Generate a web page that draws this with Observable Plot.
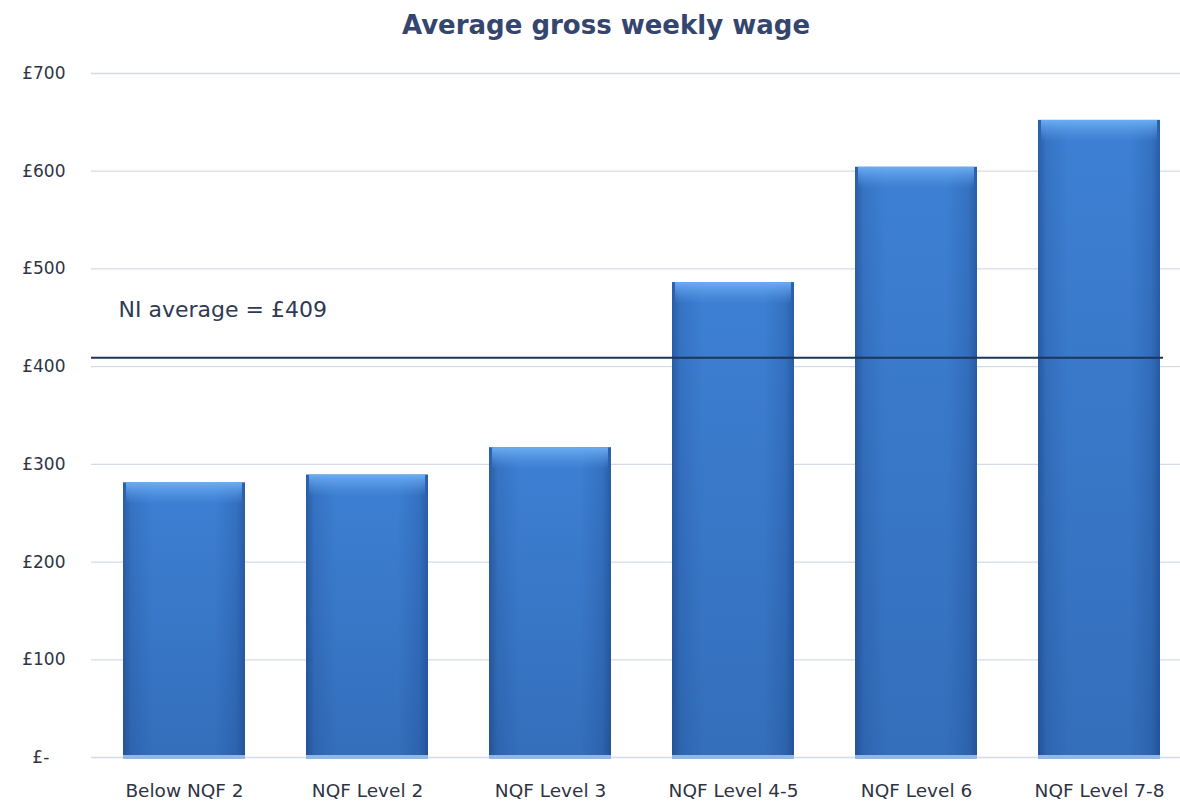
<!DOCTYPE html>
<html>
<head>
<meta charset="utf-8">
<script src="https://cdn.jsdelivr.net/npm/d3@7"></script>
<script src="https://cdn.jsdelivr.net/npm/@observablehq/plot@0.6"></script>
<style>
  html, body { margin: 0; padding: 0; background: #fff; }
  #title { height: 50px; line-height: 50px; text-align: center; font-family: "DejaVu Sans", sans-serif; font-weight: 700; font-size: 26px; color: #34456e; padding-left: 32px; }
  #chart { position: relative; }
</style>
</head>
<body>
<svg width="0" height="0" style="position:absolute">
  <defs>
    <linearGradient id="gH" x1="0" x2="1" y1="0" y2="0">
      <stop offset="0%" stop-color="#2a5da6"/>
      <stop offset="7%" stop-color="#3674c4"/>
      <stop offset="25%" stop-color="#3d80d3"/>
      <stop offset="75%" stop-color="#3d80d3"/>
      <stop offset="93%" stop-color="#3472c2"/>
      <stop offset="100%" stop-color="#2a5da6"/>
    </linearGradient>
    <linearGradient id="gV" x1="0" x2="0" y1="0" y2="1">
      <stop offset="0%" stop-color="#0a1e50" stop-opacity="0"/>
      <stop offset="100%" stop-color="#0a1e50" stop-opacity="0.18"/>
    </linearGradient>
    <linearGradient id="gTop" x1="0" x2="0" y1="0" y2="1">
      <stop offset="0%" stop-color="#6db0f5" stop-opacity="0.95"/>
      <stop offset="100%" stop-color="#5a9be6" stop-opacity="0"/>
    </linearGradient>
  </defs>
</svg>
<div id="title">Average gross weekly wage</div>
<div id="chart"></div>
<script>
const categories = ["Below NQF 2", "NQF Level 2", "NQF Level 3", "NQF Level 4-5", "NQF Level 6", "NQF Level 7-8"];
const wages = [281, 289, 317, 486, 604, 652];
const niAverage = 409;
const niLabel = "NI average = £409";
const yTicks = [0, 100, 200, 300, 400, 500, 600, 700];

const data = categories.map((c, i) => ({category: c, value: wages[i]}));

const font = "'DejaVu Sans', sans-serif";
const labelColor = "#2f3444";
const chart = Plot.plot({
  width: 1180,
  height: 751,
  marginTop: 23,
  marginBottom: 44,
  marginLeft: 91,
  marginRight: 0,
  style: {fontFamily: font, fontSize: "17px", color: labelColor, background: "transparent"},
  x: {domain: categories, range: [92, 1192], paddingInner: 0.333, paddingOuter: 0.1665, align: 0.5, label: null},
  y: {domain: [0, 700], label: null},
  marks: [
    Plot.ruleY(yTicks, {stroke: "#d5dbe5", strokeWidth: 1.3}),
    Plot.axisY({ticks: yTicks, tickSize: 0, tickPadding: 26, label: null, fontSize: 17, fill: labelColor,
      tickFormat: d => d === 0 ? "£-\u00a0\u00a0\u00a0" : "£" + d}),
    Plot.axisX({tickSize: 0, tickPadding: 26, label: null, fontSize: 18.5, fill: labelColor}),
    Plot.barY(data, {x: "category", y1: 0, y2: "value", fill: "#8fb8e8", insetBottom: -2}),
    Plot.barY(data, {x: "category", y1: 0, y2: "value", fill: "url(#gH)", insetBottom: 2}),
    Plot.barY(data, {x: "category", y1: 0, y2: "value", fill: "url(#gV)", insetBottom: 2}),
    Plot.barY(data, {x: "category", y1: d => d.value - 22, y2: "value", fill: "url(#gTop)", insetLeft: 3, insetRight: 3}),
    Plot.ruleY([niAverage], {stroke: "#1d3557", strokeWidth: 2, insetRight: 17}),
    Plot.text([niLabel], {frameAnchor: "left", dx: 27, y: niAverage, dy: -48, text: d => d, textAnchor: "start", fontSize: 22, fill: "#2e3a55"})
  ]
});
document.getElementById("chart").appendChild(chart);
</script>
</body>
</html>
